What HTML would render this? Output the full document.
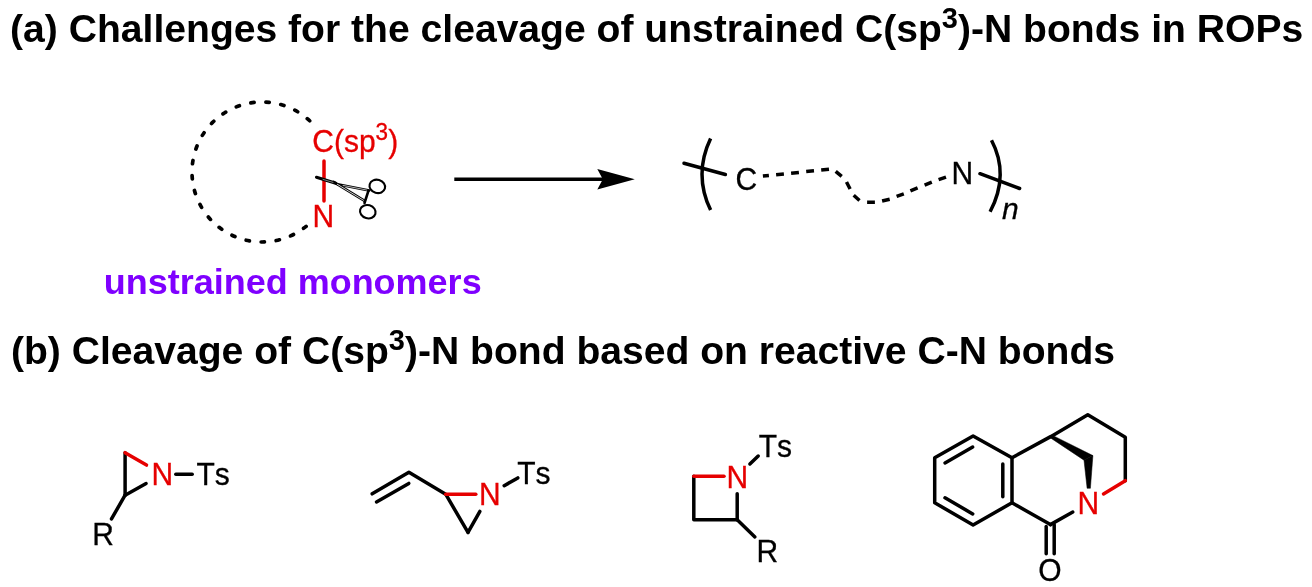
<!DOCTYPE html>
<html>
<head>
<meta charset="utf-8">
<title>C-N bond cleavage</title>
<style>
html,body{margin:0;padding:0;background:#fff;}
body{width:1312px;height:587px;overflow:hidden;}
svg{display:block;will-change:transform;font-kerning:none;font-family:"Liberation Sans",Arial,sans-serif;}
text{white-space:pre;}
.h{font-weight:bold;font-size:39.1px;fill:#000;}
.p{font-weight:bold;font-size:36px;fill:#7f00ff;}
.l{font-size:30px;fill:#000;stroke:#000;stroke-width:0.3px;}
.r{fill:#e60000;stroke:#e60000;}
.b{stroke:#000;stroke-width:3.5;stroke-linecap:round;stroke-linejoin:round;fill:none;}
.rb{stroke:#e60000;stroke-width:3.5;stroke-linecap:round;stroke-linejoin:round;fill:none;}
.d{stroke:#000;stroke-width:3.5;fill:none;stroke-linecap:butt;}
</style>
</head>
<body>
<svg width="1312" height="587" viewBox="0 0 1312 587">
<rect width="1312" height="587" fill="#fff"/>

<!-- headings -->
<g id="heading-a"><text class="h" transform="translate(10.1 42.3) scale(1 0.99)">(a) Challenges for the cleavage of unstrained C(sp<tspan style="font-size:29px" dy="-14.34">3</tspan><tspan dy="14.34">)-N bonds in ROPs</tspan></text></g>
<g id="heading-b"><text class="h" transform="translate(10.9 364.2) scale(1 0.99)">(b) Cleavage of C(sp<tspan style="font-size:29px" dy="-14.34">3</tspan><tspan dy="14.34">)-N bond based on reactive C-N bonds</tspan></text></g>
<g id="caption"><text class="p" transform="translate(103.70 293.5) scale(1 0.985)">unstrained monomers</text></g>

<!-- (a) dashed ring of the unstrained monomer -->
<path d="M309.68 120.75A70 70 0 1 0 307.46 225.23" fill="none" stroke="#000" stroke-width="3.7" stroke-linecap="round" stroke-dasharray="3.3 11.76"/>
<text class="l r" transform="translate(312.3 151.8) scale(1 1.025)">C(sp<tspan style="font-size:22.5px" dy="-11.90">3</tspan><tspan dy="11.90">)</tspan></text>
<text class="l r" transform="translate(312.40 226.8) scale(1 1.045)">N</text>
<path class="rb" d="M324 161V201.1"/>

<!-- scissors -->
<g fill="none" stroke="#000" stroke-linecap="round" stroke-linejoin="round">
<path d="M333.5 181.9L364.6 200.9" stroke-width="2.7"/>
<path d="M337.5 184.3L369.2 190.5" stroke-width="2.5"/>
<path d="M337 184.1L363.6 200.3" stroke="#fff" stroke-width="0.8"/>
<path d="M343 185.4L367 190.1" stroke="#fff" stroke-width="0.7"/>
<path d="M316.5 177.3L335.8 183.2" stroke-width="3.1"/>
<path d="M323 179.4L333 182.4" stroke="#fff" stroke-width="0.5"/>
<path d="M368.4 190.8L364.5 203" stroke-width="2.6"/>
<ellipse cx="377.3" cy="186.4" rx="7.9" ry="6.6" stroke-width="2.1" transform="rotate(16 377.3 186.4)"/>
<ellipse cx="367.8" cy="211.7" rx="7.9" ry="6.6" stroke-width="2.1" transform="rotate(16 367.8 211.7)"/>
</g>

<!-- arrow -->
<path class="d" d="M454.3 179.2H604"/>
<path d="M634.8 179.2L597.3 169L602.8 179.2L597.3 189.4Z" fill="#000"/>

<!-- polymer repeat unit -->
<path class="d" d="M710.6 138.4Q693.4 174.3 710.6 210.1"/>
<path class="d" d="M991.5 140.2Q1009.6 174.5 990.1 211.8"/>
<path class="b" d="M684.0 163.3L725.4 174.5"/>
<path class="b" d="M980.0 173.7L1019.6 188.5"/>
<text class="l" transform="translate(735.50 189.8) scale(1 1.045)">C</text>
<text class="l" transform="translate(951.40 183.6) scale(1 1.045)">N</text>
<text class="l" transform="translate(1002.1 218.9) scale(1 0.98)" font-style="italic" style="font-size:30px">n</text>
<path class="d" stroke-width="3.5" d="M762.9 176.0L768.9 175.4M776.1 174.7L783.9 173.9M791.1 173.2L798.9 172.4M806.2 171.6L814.0 170.8M821.2 170.1L829.0 169.3M835.7 171.3L841.7 176.3M846.5 182.0L850.1 189.0M853.7 195.3L859.5 200.5M867.1 202.2L874.9 202.2M882.1 201.0L889.7 199.2M896.6 196.4L903.8 193.8M910.4 190.9L917.6 187.9M924.6 185.2L931.8 182.2M938.6 179.7L946.0 177.1"/>

<!-- (b) 1: N-Ts aziridine -->
<path class="b" d="M125.1 452.7V495.2"/>
<path class="b" d="M125.1 495.2L146.1 483.5"/>
<path class="b" d="M125.1 495.2L111.5 518.9"/>
<path class="rb" d="M125.1 452.7L146.5 465.1"/>
<path class="b" d="M175.8 474.2L192.2 474.2"/>
<text class="l r" transform="translate(151.60 485.4) scale(1 1.045)">N</text>
<text class="l" transform="translate(196.40 485.4) scale(1 1.03)">Ts</text>
<text class="l" transform="translate(92.30 544.8) scale(1 1.045)">R</text>

<!-- (b) 2: vinyl aziridine -->
<path class="b" d="M372.2 493.8L408.9 472.3L445.7 494.2L468 532.4"/>
<path class="b" d="M468.0 532.4L479.9 511.4"/>
<path class="b" d="M376.5 501.9L408.8 483.4"/>
<path class="rb" d="M445.7 494.2L475.8 494.2"/>
<path class="b" d="M504.2 485.7L517.8 477.9"/>
<text class="l r" transform="translate(479.00 505.2) scale(1 1.045)">N</text>
<text class="l" transform="translate(517.30 483.5) scale(1 1.03)">Ts</text>

<!-- (b) 3: azetidine -->
<path class="b" d="M693.8 476.2V519.7H737.2"/>
<path class="b" d="M737.2 519.7L737.2 493.8"/>
<path class="b" d="M737.2 519.7L754.9 536.9"/>
<path class="rb" d="M693.8 476.2L724.0 476.2"/>
<path class="b" d="M749.9 464.0L758.2 456.0"/>
<text class="l r" transform="translate(726.50 487.7) scale(1 1.045)">N</text>
<text class="l" transform="translate(758.70 456.7) scale(1 1.03)">Ts</text>
<text class="l" transform="translate(756.50 561.5) scale(1 1.045)">R</text>

<!-- (b) 4: bridged bicyclic lactam -->
<path class="b" d="M973.1 435.9L934.7 457.8V502.8L973.1 524.9L1012 502.8V457.8Z"/>
<path class="b" d="M972.7 447.1L945.0 463.0"/>
<path class="b" d="M945.0 497.8L972.7 513.9"/>
<path class="b" d="M1002.8 463.9L1002.8 496.7"/>
<path class="b" d="M1012 457.8L1051.1 436.4L1087.8 414.7L1125.3 437.2V480.7"/>
<path class="b" d="M1012 502.8L1050.4 524.6"/>
<path class="b" d="M1050.4 524.6L1072.8 512.0"/>
<path class="rb" d="M1125.3 480.7L1103.5 493.9"/>
<path class="b" d="M1046.2 526.6L1046.2 553.8"/><path class="b" d="M1054.2 524.6L1054.2 553.8"/>
<path d="M1051.6 434.9L1092.9 455.6L1084 460.2L1050.2 437.7Z" fill="#000" stroke="#000" stroke-width="0.5" stroke-linejoin="round"/>
<path d="M1084 460.2L1092.9 455.6L1090.4 488.3L1087.1 488.3Z" fill="#000" stroke="#000" stroke-width="0.5" stroke-linejoin="round"/>
<text class="l r" transform="translate(1077.50 513.7) scale(1 1.045)">N</text>
<text class="l" transform="translate(1038.30 580.8) scale(1 1.045)">O</text>
</svg>
</body>
</html>
